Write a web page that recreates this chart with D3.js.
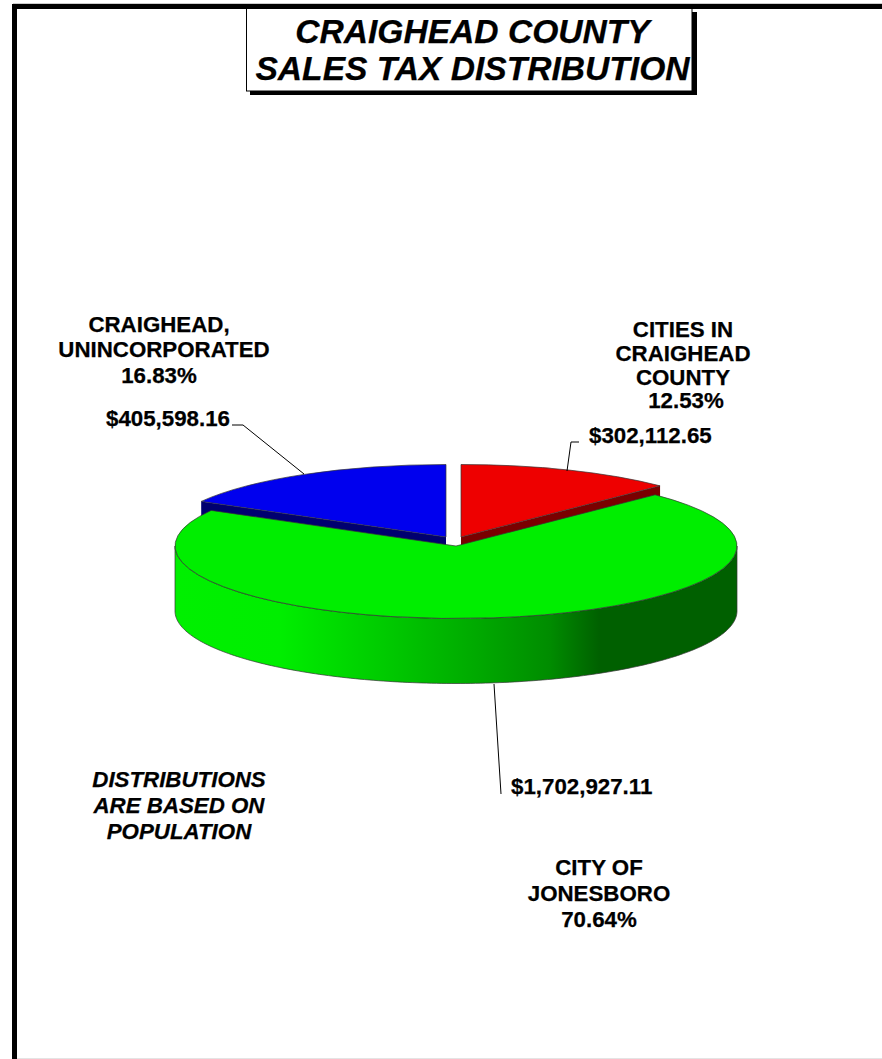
<!DOCTYPE html>
<html>
<head>
<meta charset="utf-8">
<script src="https://cdn.jsdelivr.net/npm/d3@7"></script>
<style>
  html, body { margin: 0; padding: 0; background: #fff; }
  svg { display: block; }
  text { font-family: "Liberation Sans", Arial, sans-serif; font-weight: bold; fill: #000; stroke: #000; stroke-width: 0.25; }
</style>
</head>
<body>
<div id="chart"></div>
<script>
// sales tax shares, clockwise from 12 o'clock
const categories = ["CITIES IN CRAIGHEAD COUNTY", "CITY OF JONESBORO", "CRAIGHEAD, UNINCORPORATED"];
const amounts = ["$302,112.65", "$1,702,927.11", "$405,598.16"];
const shares = [12.53, 70.64, 16.83];
const topColors = ["#ee0000", "#00ee00", "#0000ee"];
const sideColors = ["#7a0000", "#006000", "#000070"];
const titleLines = ["CRAIGHEAD COUNTY", "SALES TAX DISTRIBUTION"];
const noteLines = ["DISTRIBUTIONS", "ARE BASED ON", "POPULATION"];

const width = 882, height = 1059;

// pie geometry
const rx = 281, ry = 72.5, depth = 65;
const centers = [[461, 537], [456, 546], [446, 537]];

const svg = d3.select("#chart").append("svg")
    .attr("width", width)
    .attr("height", height);

// page frame
svg.append("rect").attr("x", 13).attr("y", 3).attr("width", width - 13).attr("height", 1).attr("fill", "#ccc");
svg.append("rect").attr("x", 17).attr("y", 1058).attr("width", width - 17).attr("height", 1).attr("fill", "#e4e4e4");
svg.append("rect").attr("x", 12).attr("y", 4).attr("width", width - 12).attr("height", 5).attr("fill", "#000");
svg.append("rect").attr("x", 12).attr("y", 4).attr("width", 5).attr("height", height - 4).attr("fill", "#000");

// title box with drop shadow
svg.append("rect").attr("x", 250).attr("y", 12).attr("width", 447).attr("height", 83).attr("fill", "#000");
svg.append("rect").attr("x", 246.5).attr("y", 8.5).attr("width", 445.5).attr("height", 82.5)
    .attr("fill", "#fff").attr("stroke", "#000").attr("stroke-width", 1);
svg.selectAll(".title").data(titleLines).enter().append("text")
    .attr("class", "title")
    .attr("x", 472.5)
    .attr("y", function (d, i) { return 43 + i * 37; })
    .attr("text-anchor", "middle")
    .style("font-size", "33.6px")
    .style("font-style", "italic")
    .text(function (d) { return d; });

// angles come from d3.pie, projected on to an ellipse
const pie = d3.pie().sort(null).startAngle(0).endAngle(2 * Math.PI);
const arcs = pie(shares);
const arc = d3.arc().innerRadius(0).outerRadius(rx);
const sx = d3.scaleLinear().domain([-1, 1]).range([-rx, rx]);
const sy = d3.scaleLinear().domain([-1, 1]).range([-ry, ry]);

function px(i, a) { return centers[i][0] + sx(Math.sin(a)); }
function py(i, a) { return centers[i][1] + sy(-Math.cos(a)); }

const defs = svg.append("defs");
const grad = defs.append("linearGradient")
    .attr("id", "greenSide")
    .attr("gradientUnits", "userSpaceOnUse")
    .attr("x1", centers[1][0] - rx).attr("y1", 0)
    .attr("x2", centers[1][0] + rx).attr("y2", 0);
[[0, "#00f000"], [0.187, "#00ee00"], [0.365, "#00cc00"], [0.543, "#00a800"], [0.667, "#008c00"], [0.756, "#006000"], [1, "#006000"]].forEach(function (s) {
    grad.append("stop").attr("offset", s[0]).attr("stop-color", s[1]);
});

function drawTop(i) {
    svg.append("path")
        .attr("d", arc(arcs[i]))
        .attr("transform", "translate(" + centers[i][0] + "," + centers[i][1] + ") scale(1," + (ry / rx) + ")")
        .attr("fill", topColors[i])
        .attr("stroke", "#333")
        .attr("stroke-width", 0.7)
        .attr("vector-effect", "non-scaling-stroke");
}

// cut faces of the two small slices, the green slice hides most of them
function drawCut(i, a) {
    const x0 = centers[i][0], y0 = centers[i][1];
    const x1 = px(i, a), y1 = py(i, a);
    svg.append("path")
        .attr("d", d3.line()([[x0, y0], [x1, y1], [x1, y1 + depth], [x0, y0 + depth]]) + "Z")
        .attr("fill", sideColors[i]);
}
drawCut(0, arcs[0].endAngle);
drawCut(2, arcs[2].startAngle);

// front wall of the green slice
const wall = d3.range(0, 181).map(function (k) {
    const a = Math.PI / 2 + k * Math.PI / 180;
    return [px(1, a), py(1, a)];
});
const wallBottom = wall.map(function (p) { return [p[0], p[1] + depth]; }).reverse();
svg.append("path")
    .attr("d", d3.line()(wall.concat(wallBottom)) + "Z")
    .attr("fill", "url(#greenSide)")
    .attr("stroke", "#333")
    .attr("stroke-width", 0.7);

drawTop(1);
drawTop(0);
drawTop(2);

// leader lines
const leaders = [
    [[579, 442], [571, 442], [567, 471]],
    [[494, 684], [501, 794]],
    [[232, 425], [243, 425], [304, 474]]
];
leaders.forEach(function (l) {
    svg.append("path")
        .attr("d", d3.line()(l))
        .attr("fill", "none")
        .attr("stroke", "#000")
        .attr("stroke-width", 1);
});

// labels
const labelLines = [
    [{ t: "CITIES IN", x: 683, y: 337 }, { t: "CRAIGHEAD", x: 683, y: 361 }, { t: "COUNTY", x: 683, y: 385 }, { t: shares[0].toFixed(2) + "%", x: 686, y: 408 }],
    [{ t: "CITY OF", x: 599, y: 875 }, { t: "JONESBORO", x: 599, y: 901 }, { t: shares[1].toFixed(2) + "%", x: 599, y: 927 }],
    [{ t: "CRAIGHEAD,", x: 159, y: 332 }, { t: "UNINCORPORATED", x: 164, y: 357 }, { t: shares[2].toFixed(2) + "%", x: 159, y: 383 }]
];
labelLines.forEach(function (lines) {
    svg.selectAll(null).data(lines).enter().append("text")
        .attr("x", function (d) { return d.x; })
        .attr("y", function (d) { return d.y; })
        .attr("text-anchor", "middle")
        .style("font-size", "22.3px")
        .text(function (d) { return d.t; });
});

const amountPos = [[589, 443], [511, 794], [106, 426]];
svg.selectAll(".amount").data(amounts).enter().append("text")
    .attr("class", "amount")
    .attr("x", function (d, i) { return amountPos[i][0]; })
    .attr("y", function (d, i) { return amountPos[i][1]; })
    .style("font-size", "22.3px")
    .text(function (d) { return d; });

svg.selectAll(".note").data(noteLines).enter().append("text")
    .attr("class", "note")
    .attr("x", 179)
    .attr("y", function (d, i) { return 787 + i * 26; })
    .attr("text-anchor", "middle")
    .style("font-size", "22.3px")
    .style("font-style", "italic")
    .text(function (d) { return d; });
</script>
</body>
</html>
